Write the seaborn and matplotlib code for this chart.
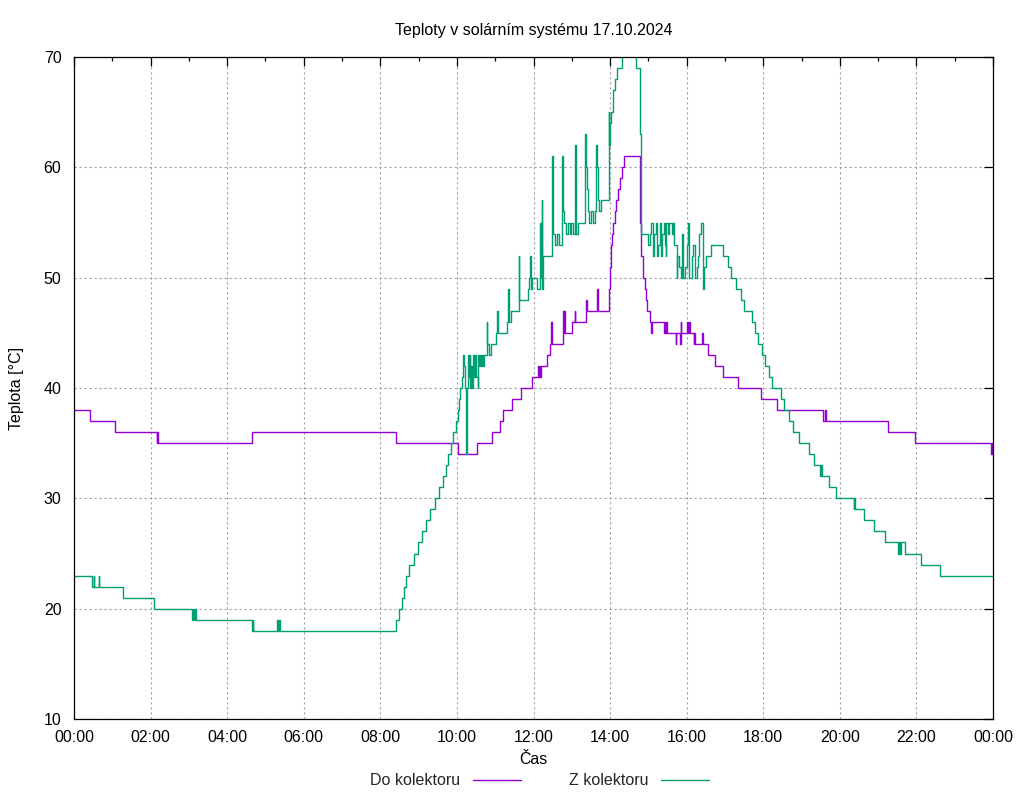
import matplotlib
matplotlib.use("Agg")
import matplotlib.pyplot as plt
from matplotlib.ticker import MultipleLocator, FixedLocator
import seaborn as sns
import pandas as pd

# ---- data (time in hours since midnight, temperature in °C) ----
do_times = [0.00, 0.41, 1.08, 2.16, 2.17, 2.19, 4.66, 8.41, 10.03, 10.53, 10.92, 11.12, 11.21, 11.43,
            11.67, 11.95, 12.13, 12.14, 12.16, 12.17, 12.19, 12.36, 12.43, 12.47, 12.49, 12.77, 12.78,
            12.79, 12.80, 12.81, 12.82, 12.83, 13.00, 13.08, 13.09, 13.36, 13.38, 13.39, 13.67, 13.69,
            13.96, 13.98, 14.00, 14.01, 14.02, 14.03, 14.04, 14.08, 14.12, 14.15, 14.21, 14.26, 14.31,
            14.37, 14.79, 14.81, 14.85, 14.90, 14.93, 14.96, 15.05, 15.07, 15.09, 15.42, 15.43, 15.44,
            15.45, 15.48, 15.71, 15.72, 15.83, 15.84, 15.85, 16.02, 16.04, 16.07, 16.08, 16.18, 16.19,
            16.23, 16.40, 16.42, 16.55, 16.74, 16.96, 17.33, 17.93, 18.36, 19.57, 19.61, 19.63, 21.26,
            21.95, 23.96, 23.98, 24.00]
do_values = [38, 37, 36, 35, 36, 35, 36, 35, 34, 35, 36, 37, 38, 39,
             40, 41, 42, 41, 42, 41, 42, 43, 44, 46, 44, 45, 47,
             45, 47, 45, 46, 45, 46, 47, 46, 47, 48, 47, 49, 47,
             48, 49, 50, 51, 52, 53, 54, 55, 56, 57, 58, 59, 60,
             61, 55, 52, 50, 49, 48, 47, 46, 45, 46, 45, 46, 45,
             46, 45, 44, 45, 44, 46, 45, 46, 45, 46, 45, 44, 45,
             44, 45, 44, 43, 42, 41, 40, 39, 38, 37, 38, 37, 36,
             35, 34, 35, 35]

z_times = [0.00, 0.48, 0.52, 0.53, 0.64, 0.66, 1.29, 2.10, 3.09, 3.11, 3.13, 3.15, 3.18, 4.66, 4.67,
           4.68, 5.31, 5.33, 5.36, 5.38, 8.41, 8.50, 8.56, 8.62, 8.66, 8.76, 8.87, 8.98, 9.09, 9.20,
           9.31, 9.42, 9.53, 9.645, 9.71, 9.77, 9.84, 9.91, 9.97, 10.02, 10.05, 10.09, 10.13, 10.17,
           10.19, 10.22, 10.24, 10.27, 10.29, 10.31, 10.33, 10.35, 10.38, 10.40, 10.42, 10.44, 10.47,
           10.50, 10.54, 10.55, 10.57, 10.60, 10.62, 10.66, 10.68, 10.72, 10.78, 10.79, 10.85, 10.88,
           11.02, 11.05, 11.08, 11.30, 11.34, 11.36, 11.40, 11.61, 11.63, 11.85, 11.88, 11.91, 11.93,
           11.97, 12.10, 12.17, 12.19, 12.21, 12.23, 12.26, 12.48, 12.49, 12.51, 12.52, 12.57, 12.62,
           12.66, 12.74, 12.75, 12.77, 12.78, 12.80, 12.85, 12.90, 12.95, 12.98, 13.02, 13.08, 13.10,
           13.12, 13.17, 13.34, 13.36, 13.39, 13.42, 13.45, 13.50, 13.55, 13.60, 13.63, 13.65, 13.68,
           13.72, 13.75, 13.80, 13.96, 13.98, 14.00, 14.03, 14.08, 14.13, 14.18, 14.30, 14.68, 14.78,
           14.80, 14.81, 14.98, 15.03, 15.06, 15.12, 15.15, 15.20, 15.22, 15.26, 15.30, 15.32, 15.35,
           15.40, 15.43, 15.46, 15.47, 15.50, 15.55, 15.61, 15.65, 15.68, 15.74, 15.76, 15.81, 15.85,
           15.87, 15.91, 15.96, 16.00, 16.04, 16.06, 16.13, 16.17, 16.22, 16.26, 16.30, 16.33, 16.37,
           16.42, 16.44, 16.50, 16.63, 16.96, 17.08, 17.17, 17.29, 17.42, 17.51, 17.70, 17.79, 17.85,
           17.98, 18.05, 18.14, 18.22, 18.46, 18.55, 18.68, 18.78, 18.94, 19.19, 19.33, 19.49, 19.51,
           19.54, 19.71, 19.90, 20.36, 20.38, 20.40, 20.64, 20.90, 21.19, 21.52, 21.54, 21.57, 21.59,
           21.70, 22.13, 22.62, 24.00]
z_values = [23, 22, 23, 22, 23, 22, 21, 20, 19, 20, 19, 20, 19, 18, 19,
            18, 19, 18, 19, 18, 19, 20, 21, 22, 23, 24, 25, 26, 27, 28,
            29, 30, 31, 32, 33, 34, 35, 36, 37, 38, 39, 40, 41, 43,
            42, 40, 34, 40, 43, 41, 43, 40, 42, 40, 43, 41, 43,
            41, 40, 43, 42, 43, 42, 43, 42, 43, 46, 44, 43, 44,
            45, 47, 45, 46, 49, 46, 47, 52, 48, 49, 50, 52, 49,
            50, 49, 55, 50, 57, 49, 52, 53, 61, 58, 54, 53, 54,
            53, 54, 61, 59, 56, 55, 54, 55, 54, 55, 54, 62, 57,
            54, 55, 63, 60, 58, 56, 55, 56, 55, 56, 62, 60, 57,
            56, 57, 57, 65, 62, 64, 65, 67, 68, 69, 72, 69, 63,
            57, 54, 53, 54, 55, 52, 54, 55, 52, 53, 55, 52, 54,
            55, 53, 52, 55, 54, 55, 54, 55, 53, 50, 52, 51, 50,
            54, 50, 51, 53, 55, 50, 52, 53, 50, 51, 52, 54, 55,
            49, 51, 52, 53, 52, 51, 50, 49, 48, 47, 46, 45, 44,
            43, 42, 41, 40, 39, 38, 37, 36, 35, 34, 33, 32, 33,
            32, 31, 30, 29, 30, 29, 28, 27, 26, 25, 26, 25, 26,
            25, 24, 23, 23]

series_names = ["Do kolektoru", "Z kolektoru"]
series_colors = ["#9400d3", "#009e73"]
x_tick_hours = list(range(0, 25, 2))
x_tick_labels = ["00:00", "02:00", "04:00", "06:00", "08:00", "10:00", "12:00",
                 "14:00", "16:00", "18:00", "20:00", "22:00", "00:00"]
y_ticks = [10, 20, 30, 40, 50, 60, 70]

# ---- build frame ----
df = pd.concat([
    pd.DataFrame({"t": do_times, "v": do_values, "series": series_names[0]}),
    pd.DataFrame({"t": z_times, "v": z_values, "series": series_names[1]}),
], ignore_index=True)

sns.set_style("white")
plt.rcParams["font.family"] = ["Liberation Sans", "DejaVu Sans"]
FS = 11.5

fig = plt.figure(figsize=(10.24, 8.0), dpi=100)
ax = fig.add_axes([74 / 1024, 1 - 719 / 800, (993 - 74) / 1024, (719 - 57) / 800])

sns.lineplot(data=df, x="t", y="v", hue="series", palette=dict(zip(series_names, series_colors)),
             estimator=None, sort=False, drawstyle="steps-post", linewidth=1.0, ax=ax, legend=False)

ax.set_xlim(0, 24)
ax.set_ylim(10, 70)
ax.xaxis.set_major_locator(FixedLocator(x_tick_hours))
ax.set_xticklabels(x_tick_labels)
ax.xaxis.set_minor_locator(MultipleLocator(1))
ax.set_yticks(y_ticks)
ax.set_yticklabels([str(v) for v in y_ticks])

ax.grid(True, which="major", color="#a0a0a0", linestyle=(0, (2, 2.5)), linewidth=0.8)
for s in ax.spines.values():
    s.set_visible(True)
    s.set_color("black")
    s.set_linewidth(0.9)
ax.tick_params(which="both", direction="in", top=True, right=True, color="black", width=0.9,
               labelsize=FS, labelcolor="black")
ax.tick_params(which="major", length=6.5)
ax.tick_params(which="minor", length=3.2)
ax.tick_params(axis="x", which="major", pad=8)
ax.tick_params(axis="y", which="major", pad=9)

ax.set_title("Teploty v solárním systému 17.10.2024", fontsize=FS, pad=16, color="black")
ax.set_xlabel("Čas", fontsize=FS, labelpad=5, color="black")
ax.set_ylabel("Teplota [°C]", fontsize=FS, labelpad=14, color="black")

handles = [plt.Line2D([], [], color=c, lw=1.0) for c in series_colors]
fig.legend(handles, series_names, loc="center", bbox_to_anchor=(0.527, 0.024), ncol=2,
           markerfirst=False, frameon=False, fontsize=FS, handlelength=3.0,
           handletextpad=0.8, columnspacing=3.0)

fig.savefig("out.png", dpi=100)
